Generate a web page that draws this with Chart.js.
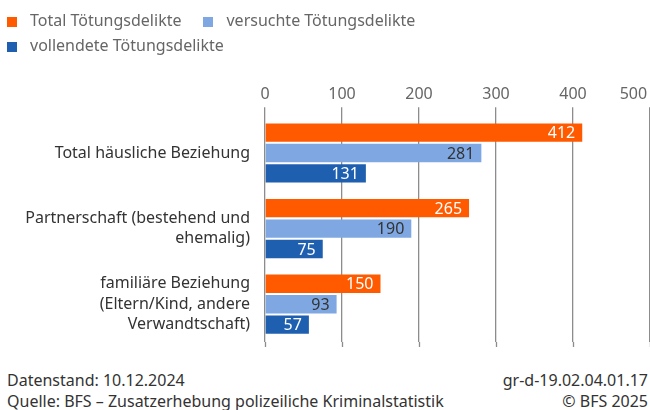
<!DOCTYPE html>
<html>
<head>
<meta charset="utf-8">
<script src="https://cdn.jsdelivr.net/npm/chart.js@4"></script>
<style>
  body { margin: 0; background: #fff; font-family: "Noto Sans", sans-serif; }
  .wrap { position: relative; width: 650px; height: 410px; overflow: hidden; }
  #myChart { position: absolute; left: 0; top: 0; }
  .legend { position: absolute; left: 7px; top: 8px; width: 440px; font-size: 16px; color: #666; }
  .legend span.item { display: inline-block; margin-right: 22px; height: 25px; line-height: 25px; }
  .legend i { display: inline-block; width: 10px; height: 10px; margin-right: 13px; vertical-align: -1px; }
  .foot { position: absolute; left: 7px; right: 2px; font-size: 16px; line-height: 22px; color: #333; }
  .foot .r { position: absolute; right: 0; top: 0; }
</style>
</head>
<body>
<div class="wrap">
  <canvas id="myChart" width="650" height="360"></canvas>
  <div class="legend" id="legend"></div>
  <div class="foot" style="top:369px">Datenstand: 10.12.2024<span class="r">gr-d-19.02.04.01.17</span></div>
  <div class="foot" style="top:390px">Quelle: BFS – Zusatzerhebung polizeiliche Kriminalstatistik<span class="r">© BFS 2025</span></div>
</div>
<script>
const categories = [
	"Total häusliche Beziehung",
	["Partnerschaft (bestehend und", "ehemalig)"],
	["familiäre Beziehung", "(Eltern/Kind, andere", "Verwandtschaft)"],
];
const seriesNames = ["Total Tötungsdelikte", "versuchte Tötungsdelikte", "vollendete Tötungsdelikte"];
const totalValues = [412, 265, 150];
const attemptedValues = [281, 190, 93];
const completedValues = [131, 75, 57];
const tickValues = [0, 100, 200, 300, 400, 500];

const colors = ["#ff5a00", "#7fa8e3", "#1f5fb0"];
const labelColors = ["#ffffff", "#333333", "#ffffff"];

Chart.defaults.font.family = "'Noto Sans', sans-serif";

// value labels inside the bar ends
const valueLabels = {
	id: "valueLabels",
	afterDatasetsDraw(chart) {
		const c = chart.ctx;
		c.save();
		c.font = "16px 'Noto Sans', sans-serif";
		c.textAlign = "right";
		c.textBaseline = "middle";
		chart.data.datasets.forEach((ds, i) => {
			chart.getDatasetMeta(i).data.forEach((bar, j) => {
				c.fillStyle = labelColors[i];
				c.fillText(ds.data[j], bar.x - 7, bar.y + 1);
			});
		});
		c.restore();
	},
};

// gridlines run a little below the last group
const gridTail = {
	id: "gridTail",
	beforeDatasetsDraw(chart) {
		const x = chart.scales.x;
		const c = chart.ctx;
		c.save();
		c.strokeStyle = "#8c8c8c";
		c.lineWidth = 1.3;
		x.ticks.forEach((t, i) => {
			const px = Math.round(x.getPixelForTick(i)) + 0.5;
			c.beginPath();
			c.moveTo(px, chart.chartArea.bottom);
			c.lineTo(px, chart.chartArea.bottom + 5);
			c.stroke();
		});
		c.restore();
	},
};

const ctx = document.getElementById("myChart");

const chart = new Chart(ctx, {
	type: "bar",
	data: {
		labels: categories,
		datasets: [
			{ label: seriesNames[0], data: totalValues, backgroundColor: colors[0] },
			{ label: seriesNames[1], data: attemptedValues, backgroundColor: colors[1] },
			{ label: seriesNames[2], data: completedValues, backgroundColor: colors[2] },
		],
	},
	options: {
		indexAxis: "y",
		responsive: false,
		animation: false,
		categoryPercentage: 0.81,
		barPercentage: 0.9,
		layout: { padding: { top: 82, bottom: 18, left: 0, right: 0 } },
		plugins: {
			legend: { display: false },
			tooltip: { enabled: false },
		},
		scales: {
			x: {
				position: "top",
				min: 0,
				max: 500,
				afterBuildTicks: (scale) => {
					scale.ticks = tickValues.map((v) => ({ value: v }));
				},
				afterFit: (scale) => {
					scale.paddingRight = 0;
					scale.paddingLeft = 0;
				},
				grid: { color: "#8c8c8c", lineWidth: 1.3, tickLength: 8 },
				border: { display: false },
				ticks: {
					padding: 3,
					color: "#666",
					font: { size: 16 },
					maxRotation: 0,
					callback: (v) => (v === 500 ? "500        " : v),
				},
			},
			y: {
				afterFit: (scale) => {
					scale.width = 265;
					scale.paddingTop = 0;
					scale.paddingBottom = 0;
				},
				grid: { display: false, drawTicks: false },
				border: { display: false },
				ticks: {
					padding: 15,
					color: "#333",
					font: { size: 16, lineHeight: 1.28 },
				},
			},
		},
	},
	plugins: [valueLabels, gridTail],
});

// html legend so it wraps like the original
const legend = document.getElementById("legend");
chart.data.datasets.forEach((ds) => {
	const item = document.createElement("span");
	item.className = "item";
	item.innerHTML = '<i style="background:' + ds.backgroundColor + '"></i>' + ds.label;
	legend.appendChild(item);
});
</script>
</body>
</html>
